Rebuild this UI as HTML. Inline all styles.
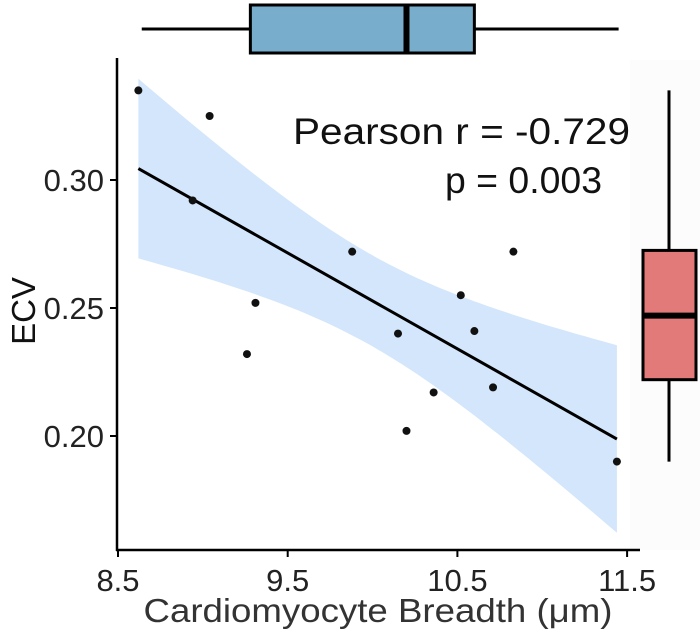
<!DOCTYPE html>
<html><head><meta charset="utf-8">
<style>
html,body{margin:0;padding:0;background:#fff;}
svg{display:block;font-family:"Liberation Sans",Arial,sans-serif;}
</style></head>
<body>
<svg id="chart" width="700" height="636" viewBox="0 0 700 636">
  <rect x="630" y="60" width="70" height="490" fill="#fcfcfc"/>
  <g id="band"></g>
  <g id="line"></g>
  <g id="points"></g>
  <g id="axes"></g>
  <g id="boxes"></g>
  <text x="630" y="144" font-size="37" text-anchor="end" textLength="337" lengthAdjust="spacingAndGlyphs" fill="#111">Pearson r = -0.729</text>
  <text x="602" y="193" font-size="37" text-anchor="end" textLength="157" lengthAdjust="spacingAndGlyphs" fill="#111">p = 0.003</text>
  <text x="378" y="622" font-size="33" text-anchor="middle" textLength="469" lengthAdjust="spacingAndGlyphs" fill="#333">Cardiomyocyte Breadth (μm)</text>
  <text transform="translate(35,311) rotate(-90)" font-size="33" text-anchor="middle" fill="#111">ECV</text>
</svg>
<script>
const xVals=[8.62,9.04,8.94,9.31,9.26,9.88,10.15,10.2,10.36,10.52,10.6,10.71,10.83,11.44];
const yVals=[0.335,0.325,0.292,0.252,0.232,0.272,0.240,0.202,0.217,0.255,0.241,0.219,0.272,0.190];
const xTicks=[8.5,9.5,10.5,11.5];
const yTicks=[0.20,0.25,0.30];
const topBox={min:8.64,q1:9.28,med:10.2,q3:10.6,max:11.45};
const rightBox={min:0.19,q1:0.222,med:0.247,q3:0.2725,max:0.335};
const NS="http://www.w3.org/2000/svg";
const sx=v=>118+(v-8.5)*169.7;
const sy=v=>180-(v-0.30)*2560;
function mk(tag,attrs,parent){const e=document.createElementNS(NS,tag);for(const k in attrs)e.setAttribute(k,attrs[k]);parent.appendChild(e);return e;}
const n=xVals.length;
const mx=xVals.reduce((a,b)=>a+b)/n, my=yVals.reduce((a,b)=>a+b)/n;
let sxx=0,sxy=0;for(let i=0;i<n;i++){sxx+=(xVals[i]-mx)**2;sxy+=(xVals[i]-mx)*(yVals[i]-my);}
const b=sxy/sxx,a=my-b*mx;
let sse=0;for(let i=0;i<n;i++)sse+=(yVals[i]-a-b*xVals[i])**2;
const s=Math.sqrt(sse/(n-2)),t=2.179;
const x0=Math.min(...xVals),x1=Math.max(...xVals);
let up=[],lo=[];
for(let k=0;k<=60;k++){const x=x0+(x1-x0)*k/60;const f=a+b*x;const se=s*Math.sqrt(1/n+(x-mx)**2/sxx);
up.push(sx(x).toFixed(1)+","+sy(f+t*se).toFixed(1));lo.unshift(sx(x).toFixed(1)+","+sy(f-t*se).toFixed(1));}
const band=mk('polygon',{points:up.concat(lo).join(' '),fill:'#d3e6fb'},document.getElementById('band'));


const ln=mk('line',{x1:sx(x0),y1:sy(a+b*x0),x2:sx(x1),y2:sy(a+b*x1),stroke:'#000','stroke-width':3},document.getElementById('line'));


const pg=document.getElementById('points');
for(let i=0;i<n;i++){const c=mk('circle',{cx:sx(xVals[i]),cy:sy(yVals[i]),r:4,fill:'#111'},pg);

}
const ax=document.getElementById('axes');
mk('line',{x1:117,y1:58,x2:117,y2:551,stroke:'#000','stroke-width':2.5},ax);
mk('line',{x1:116,y1:550,x2:640,y2:550,stroke:'#000','stroke-width':2.5},ax);
xTicks.forEach(v=>{mk('line',{x1:sx(v),y1:550,x2:sx(v),y2:557,stroke:'#000','stroke-width':2},ax);
const tx=mk('text',{x:sx(v),y:591,'font-size':31,'text-anchor':'middle',fill:'#222'},ax);tx.textContent=v.toFixed(1);

});
yTicks.forEach(v=>{mk('line',{x1:110,y1:sy(v),x2:117,y2:sy(v),stroke:'#000','stroke-width':2},ax);
const tx=mk('text',{x:104,y:sy(v)+11,'font-size':31,'text-anchor':'end',fill:'#222'},ax);tx.textContent=v.toFixed(2);

});
const bx=document.getElementById('boxes');
mk('line',{x1:sx(topBox.min),y1:29,x2:sx(topBox.max),y2:29,stroke:'#000','stroke-width':3},bx);
const tb=mk('rect',{x:sx(topBox.q1),y:5,width:sx(topBox.q3)-sx(topBox.q1),height:48,fill:'#78aecb',stroke:'#000','stroke-width':3},bx);


mk('line',{x1:sx(topBox.med),y1:5,x2:sx(topBox.med),y2:53,stroke:'#000','stroke-width':6},bx);
mk('line',{x1:669,y1:sy(rightBox.max),x2:669,y2:sy(rightBox.min),stroke:'#000','stroke-width':3},bx);
const rb=mk('rect',{x:643,y:sy(rightBox.q3),width:53,height:sy(rightBox.q1)-sy(rightBox.q3),fill:'#e27a7a',stroke:'#000','stroke-width':3},bx);


mk('line',{x1:643,y1:sy(rightBox.med),x2:696,y2:sy(rightBox.med),stroke:'#000','stroke-width':6},bx);
</script>
</body></html>
